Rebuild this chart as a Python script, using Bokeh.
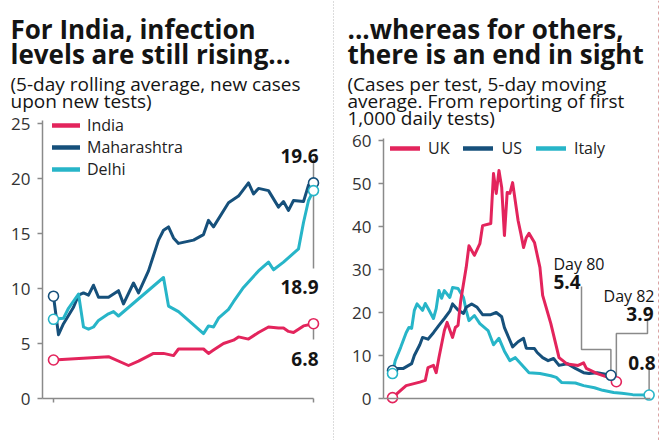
import numpy as np
from bokeh.plotting import figure
from bokeh.layouts import row
from bokeh.models import Range1d, FixedTicker, Legend, LegendItem, Label
from bokeh.embed import file_html
from bokeh.resources import INLINE

# ---------------- data: left panel (India) ----------------
india_day = [0, 11, 15, 17, 20, 22, 24, 25, 28, 30, 31, 32, 34, 36, 37, 39, 41, 43, 45, 46, 47, 48, 50, 52]
india_val = [3.5, 3.8, 3.0, 3.4, 4.1, 4.1, 3.9, 4.5, 4.5, 4.5, 4.1, 4.4, 5.0, 5.3, 5.6, 5.4, 6.0, 6.5, 6.4, 6.4, 6.1, 6.0, 6.6, 6.8]

maha_day = [0, 1, 2, 4, 5, 6, 7, 8, 9, 11, 13, 14, 16, 17, 19, 20, 21, 22, 23, 24, 25, 28, 30, 31, 32, 35, 37, 39, 40, 41, 43, 45, 46, 47, 48, 50, 51, 52]
maha_val = [9.3, 5.8, 6.8, 8.3, 9.4, 9.6, 9.4, 10.3, 9.2, 9.2, 9.8, 8.6, 10.5, 9.6, 11.6, 13.0, 14.4, 15.3, 15.6, 14.6, 14.1, 14.4, 14.9, 16.2, 15.6, 17.8, 18.4, 19.6, 18.6, 19.1, 18.9, 17.4, 17.9, 17.1, 18.0, 17.9, 19.4, 19.6]

delhi_day = [0, 2, 3, 5, 6, 7, 8, 9, 11, 12, 13, 22, 23, 25, 27, 30, 31, 32, 33, 35, 36, 38, 41, 43, 44, 46, 49, 50, 51, 52]
delhi_val = [7.2, 7.3, 8.2, 9.5, 6.5, 6.3, 6.5, 7.1, 7.7, 7.9, 7.5, 11.0, 8.4, 7.9, 7.1, 5.9, 6.6, 6.5, 7.3, 8.1, 8.8, 10.1, 11.6, 12.4, 11.7, 12.4, 13.6, 16.0, 18.0, 18.9]

left_ticks = [0, 5, 10, 15, 20, 25]

# ---------------- data: right panel (others) ----------------
uk_day = [0, 3, 5, 10, 12, 13, 15, 16, 17, 19, 20, 22, 23, 24, 25, 27, 28, 30, 32, 33, 36, 37, 38, 39, 40, 41, 42, 43, 44, 46, 47, 48, 49, 50, 52, 54, 55, 58, 61, 64, 68, 70, 71, 75, 79, 82]
uk_val = [0.2, 1.9, 3.0, 3.8, 4.2, 7.2, 7.7, 6.0, 9.5, 15.8, 17.7, 14.2, 16.5, 17.0, 22.8, 30.5, 35.5, 33.3, 36.0, 40.2, 40.7, 52.3, 47.7, 53.0, 49.1, 37.9, 47.9, 47.7, 50.2, 41.4, 38.4, 35.1, 37.4, 38.4, 36.3, 30.5, 24.0, 17.4, 9.5, 8.0, 7.7, 8.3, 7.0, 5.8, 4.9, 3.9]

us_day = [0, 2, 4, 7, 8, 10, 11, 13, 15, 17, 19, 21, 22, 24, 26, 27, 29, 31, 33, 36, 38, 40, 41, 44, 46, 48, 49, 52, 53, 55, 57, 59, 61, 64, 67, 70, 72, 75, 80]
us_val = [6.5, 7.0, 7.0, 8.1, 10.0, 12.5, 14.2, 13.8, 15.3, 17.0, 18.6, 20.3, 22.0, 20.6, 19.8, 21.2, 22.0, 21.2, 19.5, 19.5, 20.0, 19.0, 16.5, 12.0, 13.2, 14.0, 11.7, 11.6, 10.7, 9.5, 8.8, 9.3, 7.7, 8.1, 7.0, 6.0, 5.8, 6.0, 5.4]

italy_day = [0, 1, 3, 5, 6, 7, 8, 9, 11, 12, 13, 15, 16, 17, 18, 19, 21, 22, 24, 26, 27, 28, 30, 32, 35, 37, 39, 41, 43, 45, 47, 50, 54, 58, 60, 62, 67, 70, 74, 77, 81, 84, 88, 94]
italy_val = [5.8, 8.8, 11.9, 15.3, 16.5, 16.3, 20.5, 22.0, 20.5, 22.1, 21.0, 18.6, 20.9, 25.1, 23.3, 25.1, 23.5, 25.8, 25.6, 23.5, 20.5, 18.1, 19.3, 17.4, 15.8, 12.5, 14.0, 11.0, 8.8, 9.5, 8.1, 6.0, 5.8, 5.3, 4.9, 3.7, 3.6, 3.0, 2.5, 1.9, 1.4, 1.2, 0.9, 0.8]

right_ticks = [0, 10, 20, 30, 40, 50, 60]

# ---------------- style ----------------
FONT = "Open Sans"
INK = "#141414"
TICK_INK = "#333333"
AXIS = "#8a8a8a"
PINK = "#e3245c"
BLUE = "#16507b"
CYAN = "#27b5c8"
W, H = 330, 440
NAN = np.array([np.nan])


def make_fig(xr, yr, yaxis_at, yaxis_top):
    p = figure(width=W, height=H, x_range=Range1d(*xr), y_range=Range1d(*yr),
               output_backend="svg", toolbar_location=None, title=None,
               min_border_left=0, min_border_right=0, min_border_top=0, min_border_bottom=0)
    p.outline_line_color = None
    p.xgrid.visible = False
    p.ygrid.visible = False
    p.background_fill_color = "white"
    p.border_fill_color = "white"
    for ax in (p.xaxis[0], p.yaxis[0]):
        ax.axis_line_color = AXIS
        ax.axis_line_width = 1.5
        ax.major_tick_line_color = AXIS
        ax.major_tick_line_width = 1.5
        ax.minor_tick_line_color = None
        ax.major_tick_in = 0
        ax.major_tick_out = 5
        ax.major_label_text_font = FONT
        ax.major_label_text_font_size = "17px"
        ax.major_label_text_color = TICK_INK
        ax.major_label_standoff = 7
    p.yaxis[0].fixed_location = yaxis_at
    p.yaxis[0].bounds = (0, yaxis_top)
    p.xaxis[0].fixed_location = 0
    p.xaxis[0].ticker = FixedTicker(ticks=[])
    return p


def add_label(p, pos, text, size, bold=False, align="left", color=INK):
    p.add_layout(Label(x=pos[0], y=pos[1], text=text, text_font=FONT, text_font_size=size,
                       text_font_style="bold" if bold else "normal",
                       text_color=color, text_align=align, text_baseline="alphabetic"))


def make_legend(labels, renderers, location, orientation, padding, glyph_width, standoff, spacing):
    return Legend(items=[LegendItem(label=l, renderers=[r]) for l, r in zip(labels, renderers)],
                  location=location, orientation=orientation, margin=0, padding=padding,
                  glyph_width=glyph_width, glyph_height=20, label_height=20,
                  label_standoff=standoff, spacing=spacing,
                  label_text_font=FONT, label_text_font_size="16px", label_text_color="#222222",
                  border_line_color=None, background_fill_alpha=0)


# ================= LEFT PANEL =================
# page mapping: day 0 at x=53, 5 px/day ; value 0 at y=398, 11 px/unit
LX0, LDX, LY0, LDY = 53.0, 5.0, 398.0, 11.0


def lpos(px, py):
    return ((px - LX0) / LDX, (LY0 - py) / LDY)


p1 = make_fig(((0 - LX0) / LDX, (W - LX0) / LDX), ((LY0 - H) / LDY, LY0 / LDY),
              yaxis_at=lpos(42, 0)[0], yaxis_top=lpos(0, 120)[1])
p1.yaxis[0].ticker = FixedTicker(ticks=left_ticks)
p1.xaxis[0].bounds = (lpos(42, 0)[0], india_day[-1])
p1.segment(x0=[india_day[0], india_day[-1]], y0=[0, 0], x1=[india_day[0], india_day[-1]],
           y1=[-4 / LDY, -4 / LDY], line_color=AXIS, line_width=1.5)

lw = 3
p1.line(india_day, india_val, line_color=PINK, line_width=lw, line_join="round")
p1.line(maha_day, maha_val, line_color=BLUE, line_width=lw, line_join="round")
p1.line(delhi_day, delhi_val, line_color=CYAN, line_width=lw, line_join="round")

xe = india_day[-1]
p1.line([xe, xe], [maha_val[-1] + 0.5, lpos(0, 158)[1]], line_color=AXIS, line_width=1.5)
p1.line([xe, xe], [delhi_val[-1] - 0.5, lpos(0, 268)[1]], line_color=AXIS, line_width=1.5)
p1.line([xe, xe], [india_val[-1] - 0.5, lpos(0, 339)[1]], line_color=AXIS, line_width=1.5)

for d, v, c in ((india_day, india_val, PINK), (maha_day, maha_val, BLUE), (delhi_day, delhi_val, CYAN)):
    p1.scatter([d[0], d[-1]], [v[0], v[-1]], size=10, marker="circle",
               fill_color="white", line_color=c, line_width=1.6)

# legend key strokes (thicker than the data lines, as in the reference)
k1 = [p1.line(NAN, NAN, line_color=c, line_width=4.5, line_cap="round") for c in (PINK, BLUE, CYAN)]
p1.add_layout(make_legend(["India", "Maharashtra", "Delhi"], k1, (52, 260), "vertical",
                          10, 28, 7, 0))

add_label(p1, lpos(10, 28), "For India, infection", "26px", bold=True)
add_label(p1, lpos(10, 53), "levels are still rising...", "26px", bold=True)
add_label(p1, lpos(10, 83), "(5-day rolling average, new cases", "19px")
add_label(p1, lpos(10, 100), "upon new tests)", "19px")

add_label(p1, lpos(318, 155), f"{maha_val[-1]:.1f}", "19px", bold=True, align="right")
add_label(p1, lpos(318, 286), f"{delhi_val[-1]:.1f}", "19px", bold=True, align="right")
add_label(p1, lpos(318, 358), f"{india_val[-1]:.1f}", "19px", bold=True, align="right")

# ================= RIGHT PANEL =================
# page mapping (figure starts at page x=330): day 0 at x=392, 2.73 px/day ; 0 at y=398, 4.3 px/unit
RX0, RDX, RY0, RDY = 392.0 - W, 2.73, 398.0, 4.3


def rpos(px, py):
    return ((px - W - RX0) / RDX, (RY0 - py) / RDY)


p2 = make_fig(((0 - RX0) / RDX, (W - RX0) / RDX), ((RY0 - H) / RDY, RY0 / RDY),
              yaxis_at=rpos(383, 0)[0], yaxis_top=rpos(0, 138)[1])
p2.yaxis[0].ticker = FixedTicker(ticks=right_ticks)
p2.xaxis[0].bounds = (rpos(383, 0)[0], rpos(650, 0)[0])

# panel separators
ytop, ybot = rpos(0, 0)[1], rpos(0, H)[1]
p2.line([rpos(333, 0)[0]] * 2, [ybot, ytop], line_color="#b8b8b8", line_width=1, line_dash="1 2")
p2.line([rpos(658, 0)[0]] * 2, [ybot, ytop], line_color="#d9a3a3", line_width=1, line_dash="3 3")

p2.line(italy_day, italy_val, line_color=CYAN, line_width=lw, line_join="round")
p2.line(us_day, us_val, line_color=BLUE, line_width=lw, line_join="round")
p2.line(uk_day, uk_val, line_color=PINK, line_width=lw, line_join="round")

ux, uy = us_day[-1], us_val[-1]
kx, ky = uk_day[-1], uk_val[-1]
ix, iy = italy_day[-1], italy_val[-1]
p2.line([rpos(581, 0)[0], rpos(581, 0)[0], ux, ux],
        [rpos(0, 286)[1], rpos(0, 349)[1], rpos(0, 349)[1], uy + 1.2],
        line_color=AXIS, line_width=1.5)
p2.line([rpos(647, 0)[0], rpos(647, 0)[0], kx, kx],
        [rpos(0, 318)[1], rpos(0, 333)[1], rpos(0, 333)[1], ky + 1.2],
        line_color=AXIS, line_width=1.5)
p2.line([ix, ix], [rpos(0, 367)[1], iy + 1.2], line_color=AXIS, line_width=1.5)

for d, v, c in ((uk_day, uk_val, PINK), (us_day, us_val, BLUE), (italy_day, italy_val, CYAN)):
    p2.scatter([d[0], d[-1]], [v[0], v[-1]], size=10, marker="circle",
               fill_color="white", line_color=c, line_width=1.6)

k2 = [p2.line(NAN, NAN, line_color=c, line_width=4.5, line_cap="round") for c in (PINK, BLUE, CYAN)]
p2.add_layout(make_legend(["UK", "US", "Italy"], k2, (60, 281), "horizontal", 9, 30, 8, 14))

add_label(p2, rpos(347, 28), "...whereas for others,", "26px", bold=True)
add_label(p2, rpos(347, 53), "there is an end in sight", "26px", bold=True)
add_label(p2, rpos(347, 83), "(Cases per test, 5-day moving", "19px")
add_label(p2, rpos(347, 100), "average. From reporting of first", "19px")
add_label(p2, rpos(347, 117), "1,000 daily tests)", "19px")

add_label(p2, rpos(553, 263), f"Day {us_day[-1]}", "16px")
add_label(p2, rpos(553, 281), f"{us_val[-1]:.1f}", "19px", bold=True)
add_label(p2, rpos(654, 295), f"Day {uk_day[-1]}", "16px", align="right")
add_label(p2, rpos(653, 313), f"{uk_val[-1]:.1f}", "19px", bold=True, align="right")
add_label(p2, rpos(655, 362), f"{italy_val[-1]:.1f}", "19px", bold=True, align="right")

layout = row(p1, p2)
open("out.html", "w").write(file_html(layout, INLINE))
